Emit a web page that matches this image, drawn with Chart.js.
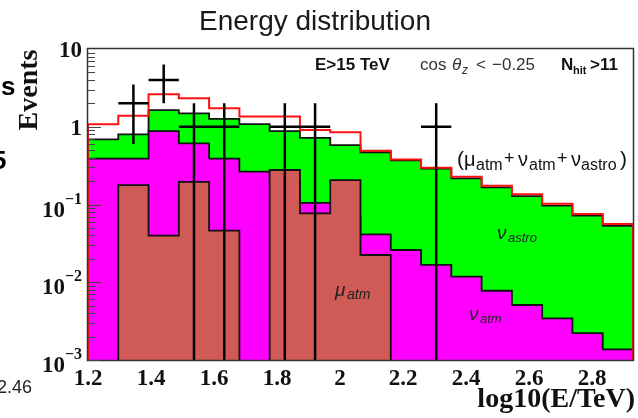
<!DOCTYPE html>
<html>
<head>
<meta charset="utf-8">
<script src="https://cdn.jsdelivr.net/npm/chart.js@4.4.0/dist/chart.umd.min.js"></script>
<style>
  html, body { margin: 0; padding: 0; background: #fff; }
  #wrap { width: 638px; height: 418px; }
</style>
</head>
<body>
<div id="wrap"><canvas id="energyChart" width="638" height="418"></canvas></div>
<script>
// binning in log10(E/TeV)
const binLow = 1.2;
const binHigh = 2.93;
const nBins = 18;

// per-bin levels
const totalAll   = [1.08, 1.39, 2.61, 2.32, 1.73, 1.35, 1.35, 0.91, 0.85, 0.49, 0.38, 0.297, 0.228, 0.174, 0.135, 0.102, 0.0755, 0.056];
const nuStackTop = [0.69, 0.80, 1.64, 1.49, 1.26, 1.08, 0.88, 0.72, 0.58, 0.47, 0.37, 0.29, 0.217, 0.166, 0.128, 0.097, 0.0718, 0.0533];
const nuAtm      = [0.39, 0.39, 0.88, 0.61, 0.39, 0.264, 0.2, 0.105, 0.07, 0.0414, 0.026, 0.0167, 0.0118, 0.00778, 0.0051, 0.00344, 0.00221, 0.00137];
const muAtm      = [0, 0.178, 0.0397, 0.196, 0.046, 0, 0.278, 0.077, 0.206, 0.0224, 0, 0, 0, 0, 0, 0, 0, 0];

// observed events and their error bars
const dataCounts  = [0, 2, 4, 1, 1, 0, 1, 1, 0, 0, 0, 1, 0, 0, 0, 0, 0, 0];
const dataErrUp   = [0, 1.5, 2.3, 1, 1, 0, 1, 1, 0, 0, 0, 1, 0, 0, 0, 0, 0, 0];
const dataErrDown = [0, 1.4, 2, 1, 1, 0, 1, 1, 0, 0, 0, 1, 0, 0, 0, 0, 0, 0];

const xTickValues = [1.2, 1.4, 1.6, 1.8, 2.0, 2.2, 2.4, 2.6, 2.8];
const xTickLabels = ['1.2', '1.4', '1.6', '1.8', '2', '2.2', '2.4', '2.6', '2.8'];
const yTickValues = [10, 1, 0.1, 0.01, 0.001];
const yTickLabels = [['10', ''], ['1', ''], ['10', '\u22121'], ['10', '\u22122'], ['10', '\u22123']];

const binWidth = (binHigh - binLow) / nBins;
const floorVal = 1e-5; // empty bins sit below the log axis

function histPoints(values) {
  const pts = [{x: binLow, y: floorVal}];
  values.forEach((v, i) => {
    const y = v > 0 ? v : floorVal;
    pts.push({x: binLow + i * binWidth, y: y});
    pts.push({x: binLow + (i + 1) * binWidth, y: y});
  });
  pts.push({x: binHigh, y: floorVal});
  return pts;
}

function crossPoints() {
  const pts = [];
  dataCounts.forEach((n, i) => {
    if (n <= 0) return;
    const lo = binLow + i * binWidth, hi = lo + binWidth, c = lo + binWidth / 2;
    pts.push({x: lo, y: n}, {x: hi, y: n}, {x: hi, y: null});
    pts.push({x: c, y: Math.max(n - dataErrDown[i], floorVal)}, {x: c, y: n + dataErrUp[i]}, {x: c, y: null});
  });
  return pts;
}

const SERIF = '"Liberation Serif", "Times New Roman", serif';
const SANS = '"Liberation Sans", Arial, sans-serif';

function txt(ctx, s, x, y, font, align) {
  ctx.font = font;
  ctx.textAlign = align || 'left';
  ctx.fillText(s, x, y);
}

const decorations = {
  id: 'decorations',
  afterDatasetsDraw(chart) {
    const ctx = chart.ctx;
    const a = chart.chartArea;
    const xs = chart.scales.x, ys = chart.scales.y;
    ctx.save();
    ctx.textBaseline = 'alphabetic';

    // frame
    ctx.strokeStyle = '#333';
    ctx.lineWidth = 1.5;
    ctx.strokeRect(a.left - 0.5, a.top - 0.5, a.right - a.left + 1, a.bottom - a.top + 1);

    // left axis ticks, drawn inward
    ctx.lineWidth = 1;
    ctx.strokeStyle = '#444';
    for (let d = -3; d < 1; d++) {
      for (let m = 1; m <= 9; m++) {
        const v = m * Math.pow(10, d);
        const py = Math.round(ys.getPixelForValue(v)) + 0.5;
        const len = m === 1 ? 13 : 7;
        ctx.beginPath();
        ctx.moveTo(a.left, py);
        ctx.lineTo(a.left + len, py);
        ctx.stroke();
      }
    }

    ctx.fillStyle = '#111';
    // y tick labels
    yTickValues.forEach((v, i) => {
      const py = ys.getPixelForValue(v);
      const [base, sup] = yTickLabels[i];
      if (!sup) {
        txt(ctx, base, 82, py + 8, 'bold 23px ' + SERIF, 'right');
      } else {
        ctx.font = 'bold 16px ' + SERIF;
        const w = ctx.measureText(sup).width;
        txt(ctx, sup, 82, py - 1, 'bold 16px ' + SERIF, 'right');
        txt(ctx, base, 82 - w, py + 12, 'bold 23px ' + SERIF, 'right');
      }
    });

    // x tick labels
    xTickValues.forEach((v, i) => {
      txt(ctx, xTickLabels[i], xs.getPixelForValue(v), 385, 'bold 23px ' + SERIF, 'center');
    });

    // axis titles
    txt(ctx, 'log10(E/TeV)', 635, 407, 'bold 28px ' + SERIF, 'right');
    ctx.save();
    ctx.translate(37, 90);
    ctx.rotate(-Math.PI / 2);
    txt(ctx, 'Events', 0, 0, 'bold 28px ' + SERIF, 'center');
    ctx.restore();

    // title
    ctx.fillStyle = '#1a1a1a';
    txt(ctx, 'Energy distribution', 315, 30, '28px ' + SANS, 'center');

    // stray slide text at the left edge
    ctx.fillStyle = '#000';
    txt(ctx, 's', 1, 95, 'bold 26px ' + SANS, 'left');
    txt(ctx, '5', -8, 169, 'bold 26px ' + SANS, 'left');
    ctx.fillStyle = '#222';
    txt(ctx, '2.46', -3, 393, '18px ' + SANS, 'left');

    // selection cuts
    ctx.fillStyle = '#111';
    txt(ctx, 'E>15 TeV', 315, 70, 'bold 17px ' + SANS, 'left');
    ctx.fillStyle = '#333';
    txt(ctx, 'cos', 420, 70, '17px ' + SANS, 'left');
    txt(ctx, '\u03b8', 452, 70, 'italic 17px ' + SANS, 'left');
    txt(ctx, 'z', 462, 74, 'italic 12px ' + SANS, 'left');
    txt(ctx, '<', 476, 70, '17px ' + SANS, 'left');
    txt(ctx, '\u22120.25', 492, 70, '17px ' + SANS, 'left');
    ctx.fillStyle = '#111';
    txt(ctx, 'N', 561, 70, 'bold 17px ' + SANS, 'left');
    txt(ctx, 'hit', 573, 74, 'bold 11px ' + SANS, 'left');
    txt(ctx, '>11', 590, 70, 'bold 17px ' + SANS, 'left');

    // red line label
    ctx.fillStyle = '#111';
    txt(ctx, '(', 457, 166, '21px ' + SANS, 'left');
    txt(ctx, '\u03bc', 464, 166, '20px ' + SANS, 'left');
    txt(ctx, 'atm', 476, 170, '16px ' + SANS, 'left');
    txt(ctx, '+', 504, 164, '18px ' + SANS, 'left');
    txt(ctx, '\u03bd', 518, 166, '20px ' + SANS, 'left');
    txt(ctx, 'atm', 529, 170, '16px ' + SANS, 'left');
    txt(ctx, '+', 557, 164, '18px ' + SANS, 'left');
    txt(ctx, '\u03bd', 571, 166, '20px ' + SANS, 'left');
    txt(ctx, 'astro', 581, 170, '16px ' + SANS, 'left');
    txt(ctx, ')', 620, 166, '21px ' + SANS, 'left');

    // component labels
    ctx.fillStyle = '#222';
    txt(ctx, '\u03bd', 497, 239, 'italic 19px ' + SANS, 'left');
    txt(ctx, 'astro', 508, 242, 'italic 13px ' + SANS, 'left');
    txt(ctx, '\u03bc', 335, 296, 'italic 19px ' + SANS, 'left');
    txt(ctx, 'atm', 347, 299, 'italic 14px ' + SANS, 'left');
    txt(ctx, '\u03bd', 469, 320, 'italic 19px ' + SANS, 'left');
    txt(ctx, 'atm', 480, 323, 'italic 13px ' + SANS, 'left');

    ctx.restore();
  }
};

const histStyle = {
  pointRadius: 0,
  borderWidth: 1.8,
  borderColor: '#111',
  borderJoinStyle: 'miter',
  tension: 0,
  fill: 'start'
};

new Chart(document.getElementById('energyChart').getContext('2d'), {
  type: 'line',
  data: {
    datasets: [
      { label: 'data', data: crossPoints(), borderColor: '#000', borderWidth: 2.5,
        pointRadius: 0, fill: false, spanGaps: false, order: 0 },
      { label: 'mu+nu_atm+nu_astro', data: histPoints(totalAll), borderColor: '#ff1010', borderWidth: 2,
        pointRadius: 0, fill: false, tension: 0, borderJoinStyle: 'miter', order: 1 },
      Object.assign({ label: 'mu_atm', data: histPoints(muAtm), backgroundColor: '#d05a55', order: 2 }, histStyle),
      Object.assign({ label: 'nu_atm', data: histPoints(nuAtm), backgroundColor: '#ff00ff', order: 3 }, histStyle),
      Object.assign({ label: 'nu_astro', data: histPoints(nuStackTop), backgroundColor: '#00ff00', order: 4 }, histStyle)
    ]
  },
  options: {
    responsive: false,
    animation: false,
    devicePixelRatio: 1,
    layout: { padding: { left: 88, top: 49, right: 5, bottom: 58 } },
    plugins: { legend: { display: false }, tooltip: { enabled: false } },
    scales: {
      x: { type: 'linear', min: binLow, max: binHigh, display: false },
      y: { type: 'logarithmic', min: 0.001, max: 10, display: false }
    }
  },
  plugins: [decorations]
});
</script>
</body>
</html>
